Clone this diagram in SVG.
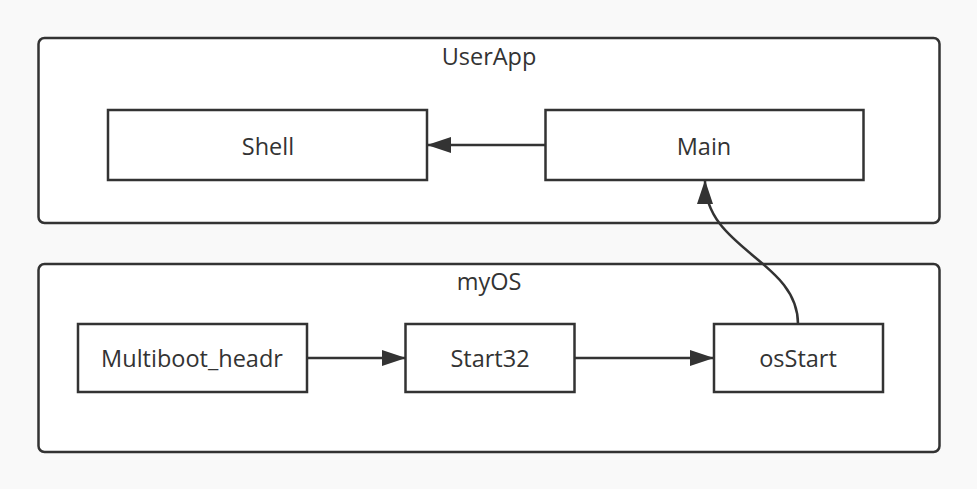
<svg xmlns="http://www.w3.org/2000/svg" width="977" height="489" viewBox="0 0 977 489">
<style>
.bg{fill:#f9f9f9}
.cont{fill:#fff;stroke:#333;stroke-width:2.5}
.box{fill:#fff;stroke:#333;stroke-width:2.5}
.t{font-family:"Open Sans","Noto Sans",sans-serif;font-size:23.5px;fill:#333;text-anchor:middle;dominant-baseline:central}
.c{fill:none;stroke:#333;stroke-width:2.5}
</style>
<defs>
<marker id="ah2" markerWidth="24" markerHeight="18" refX="23" refY="8" orient="auto" markerUnits="userSpaceOnUse" viewBox="0 0 24 16">
<path d="M0,0 L24,8 L0,16 Z" fill="#333"/>
</marker>
</defs>
<rect class="bg" x="0" y="0" width="977" height="489"/>
<g id="UserApp">
<rect class="cont" x="38.5" y="38" width="901" height="185" rx="6"/>
<text class="t" x="489" y="56">UserApp</text>
</g>
<g id="myOS">
<rect class="cont" x="38.5" y="264" width="901" height="188" rx="6"/>
<text class="t" x="489" y="281">myOS</text>
</g>
<g id="Shell">
<rect class="box" x="108" y="110" width="319" height="70"/>
<text class="t" x="268" y="146">Shell</text>
</g>
<g id="Main">
<rect class="box" x="545.5" y="110" width="318" height="70"/>
<text class="t" x="704" y="146">Main</text>
</g>
<g id="Multiboot_headr">
<rect class="box" x="78" y="324" width="229" height="68"/>
<text class="t" x="192" y="358">Multiboot_headr</text>
</g>
<g id="Start32">
<rect class="box" x="405.5" y="324" width="169" height="68"/>
<text class="t" x="490" y="358">Start32</text>
</g>
<g id="osStart">
<rect class="box" x="714" y="324" width="169" height="68"/>
<text class="t" x="798" y="358">osStart</text>
</g>
<g id="connectors">
<path class="c" d="M545.5,145 L428,145" marker-end="url(#ah2)"/>
<path class="c" d="M307,358 L405,358" marker-end="url(#ah2)"/>
<path class="c" d="M574.5,358 L713,358" marker-end="url(#ah2)"/>
<path class="c" d="M798,324 C798,260 705,250 705,181" marker-end="url(#ah2)"/>
</g>
</svg>
